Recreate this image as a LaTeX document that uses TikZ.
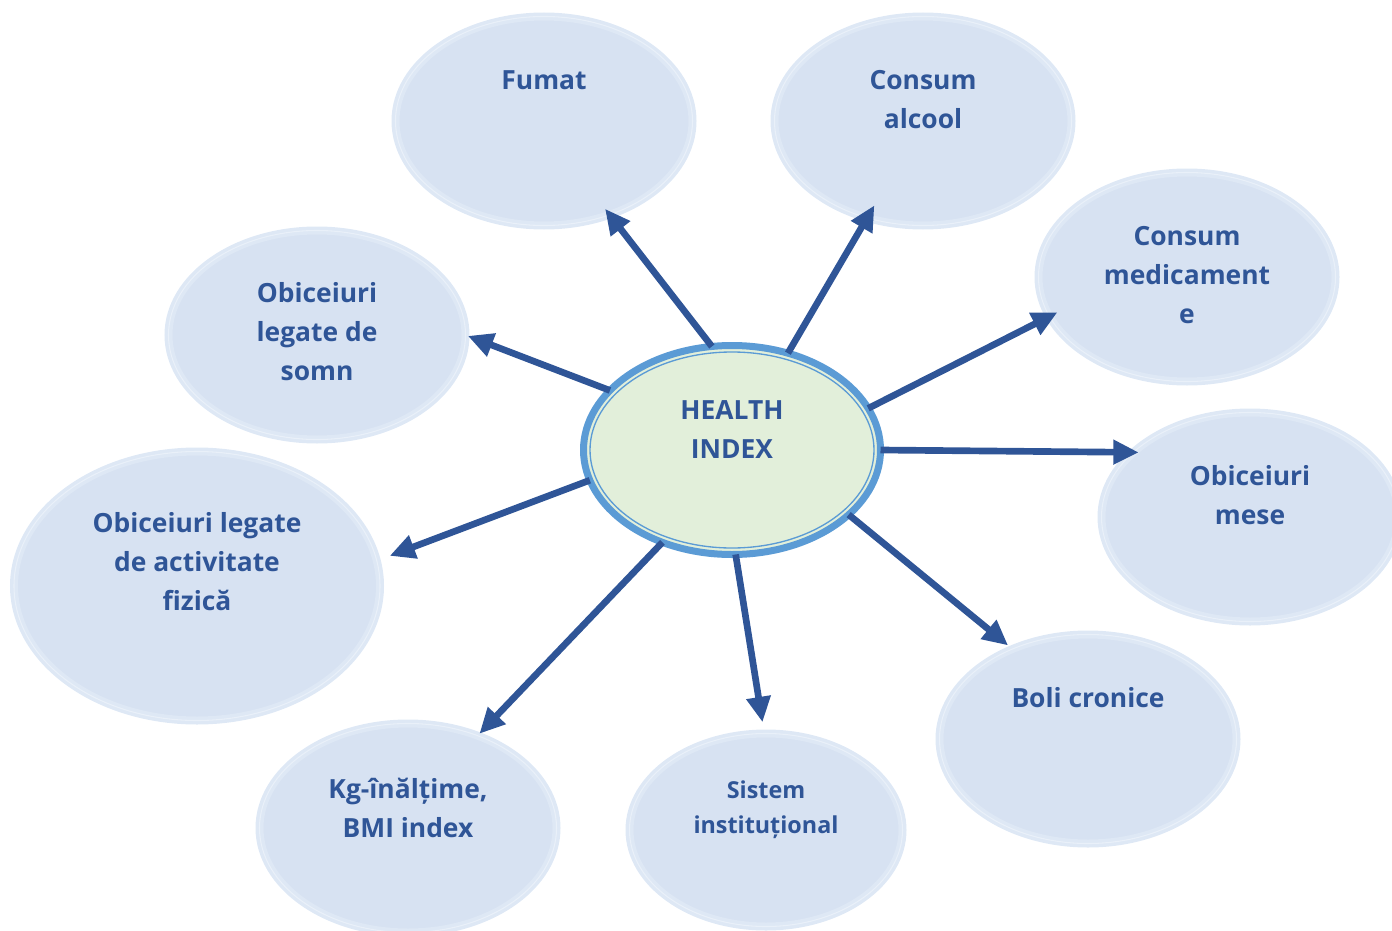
\documentclass[tikz,border=0pt]{standalone}
\usepackage{fontspec}
\setmainfont{Open Sans}
\usetikzlibrary{shapes.geometric,arrows.meta}

\definecolor{txtblue}{HTML}{2F5597}
\definecolor{ringblue}{HTML}{5B9BD5}
\definecolor{hifill}{HTML}{E2EFDA}
\definecolor{bubfill}{HTML}{D7E2F2}
\definecolor{bubhalo}{HTML}{DEE8F5}
\definecolor{bubring}{HTML}{E9F0F9}

\tikzset{
  bubble/.style={ellipse, fill=bubfill, draw=bubhalo, double=bubring, line width=2.6pt, double distance=0.8pt,
    inner sep=0pt, outer sep=0pt, minimum width=222.75pt, minimum height=156.75pt},
  hub/.style={ellipse, fill=hifill, draw=ringblue, line width=5.25pt, inner sep=0pt, outer sep=0pt,
    minimum width=222.75pt, minimum height=156.75pt},
  lbl/.style={text=txtblue, font=\fontsize{19.8}{29.25}\selectfont\bfseries, align=center, inner sep=0pt},
  spoke/.style={-{Triangle[length=19pt,width=17.5pt]}, line width=5pt, draw=txtblue}
}

\begin{document}
\begin{tikzpicture}[x=0.75pt,y=-0.75pt]
    \useasboundingbox (0,0) rectangle (1392,931);

    \node[bubble] (fumat) at (544,121) {};
    \node[bubble] (alcool) at (923,121) {};
    \node[bubble] (medic) at (1187,277) {};
    \node[bubble] (somn) at (317,335) {};
    \node[bubble] (mese) at (1250,517) {};
    \node[bubble, minimum width=274.5pt, minimum height=201.75pt] (activ) at (197,586) {};
    \node[bubble] (boli) at (1088,739) {};
    \node[bubble] (kg) at (408,828) {};
    \node[bubble, minimum width=204.75pt, minimum height=144.75pt] (sistem) at (766,830) {};

    % centre oval with its thin inner line
    \node[hub] (hi) at (732,450) {};
    \draw[ringblue, line width=1pt] (hi.center) ellipse [x radius=106.5pt, y radius=73.5pt];

    \node[lbl] (fumatT) at (544,80) {Fumat};
    \node[lbl] (alcoolT) at (923,99.5) {Consum\\alcool};
    \node[lbl] (medicT) at (1187,275) {Consum\\medicament\\e};
    \node[lbl] (somnT) at (317,332) {Obiceiuri\\legate de\\somn};
    \node[lbl] (meseT) at (1250,495.5) {Obiceiuri\\mese};
    \node[lbl] (activT) at (197,562) {Obiceiuri legate\\de activitate\\fizică};
    \node[lbl] (boliT) at (1088,698) {Boli cronice};
    \node[lbl] (kgT) at (408,807.5) {Kg-înălțime,\\BMI index};
    \node[lbl, font=\fontsize{17.5}{26.25}\selectfont\bfseries] (sistemT) at (766,809.5) {Sistem\\instituțional};
    \node[lbl] (hiT) at (732,429.5) {HEALTH\\INDEX};

    \draw[spoke, shorten >=-5.6pt] (hi.101.7) -- (fumat.-55.7);
    \draw[spoke, shorten >=-10.8pt] (hi.60.1) -- (alcool.-120.8);
    \draw[spoke, shorten >=-6.6pt] (hi.17.6) -- (medic.196);
    \draw[spoke, shorten >=-4pt] (hi.-0.4) -- (mese.151);
    \draw[spoke, shorten >=4.3pt] (hi.-29.2) -- (boli.130.4);
    \draw[spoke, shorten >=8.6pt] (hi.-88.4) -- (sistem.91.6);
    \draw[spoke, shorten >=2pt] (hi.-127.4) -- (kg.53.6);
    \draw[spoke, shorten >=10.4pt] (hi.192.4) -- (activ.8.8);
    \draw[spoke, shorten >=1.9pt] (hi.154.8) -- (somn.-0.8);
\end{tikzpicture}
\end{document}
